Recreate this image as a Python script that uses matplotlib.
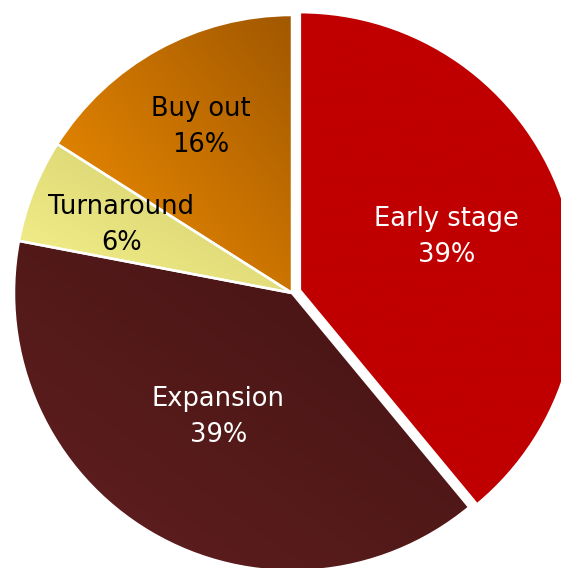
import numpy as np
import matplotlib.pyplot as plt
from matplotlib.colors import LinearSegmentedColormap

## Donnees
categories = ['Early stage', 'Expansion', 'Turnaround', 'Buy out']
parts = [39, 39, 6, 16]                 # en %

## Style
couleurs = [('#C00000', '#C00000'),     # (bas-gauche, haut-droite)
            ('#611F1F', '#441313'),
            ('#F6F28C', '#CFCA6A'),
            ('#F49000', '#A25800')]
couleurs_texte = ['white', 'white', 'black', 'black']
r_label = [0.56, 0.52, 0.66, 0.68]      # position des etiquettes (fraction du rayon)
eclat = [0.03, 0, 0, 0]

R = 278.0                               # rayon en pixels
cx, cy = 292.0, 293.0                   # centre en pixels (depuis le haut)

fig = plt.figure(figsize=(5.61, 5.68), dpi=100)
ax = fig.add_axes([0, 0, 1, 1])

wedges, _ = ax.pie(parts, startangle=90, counterclock=False, explode=eclat,
                   wedgeprops=dict(edgecolor='white', linewidth=1.8))

# degrades dans chaque part
for w, (c0, c1) in zip(wedges, couleurs):
    w.set_zorder(3)
    w.set_facecolor('none')
    pts = w.get_path().vertices
    x0, y0 = pts[:, 0].min(), pts[:, 1].min()
    x1, y1 = pts[:, 0].max(), pts[:, 1].max()
    xx, yy = np.meshgrid(np.linspace(0, 1, 200), np.linspace(0, 1, 200))
    grad = (xx + yy) / 2
    cmap = LinearSegmentedColormap.from_list('g', [c0, c1])
    im = ax.imshow(grad, cmap=cmap, extent=[x0, x1, y0, y1], origin='lower',
                   vmin=0, vmax=1, zorder=2, interpolation='bilinear')
    im.set_clip_path(w)

# etiquettes
for w, cat, p, coul, rl in zip(wedges, categories, parts, couleurs_texte, r_label):
    th = np.deg2rad((w.theta1 + w.theta2) / 2)
    x = w.center[0] + rl * np.cos(th)
    y = w.center[1] + rl * np.sin(th)
    ax.text(x, y, f'{cat}\n{p}%', ha='center', va='center', color=coul,
            fontsize=18.5, linespacing=1.5, zorder=4, family='DejaVu Sans')

ax.set_xlim(-cx / R, (561 - cx) / R)
ax.set_ylim(-(568 - cy) / R, cy / R)
ax.set_aspect('auto')
ax.axis('off')

fig.savefig('out.png', dpi=100)
